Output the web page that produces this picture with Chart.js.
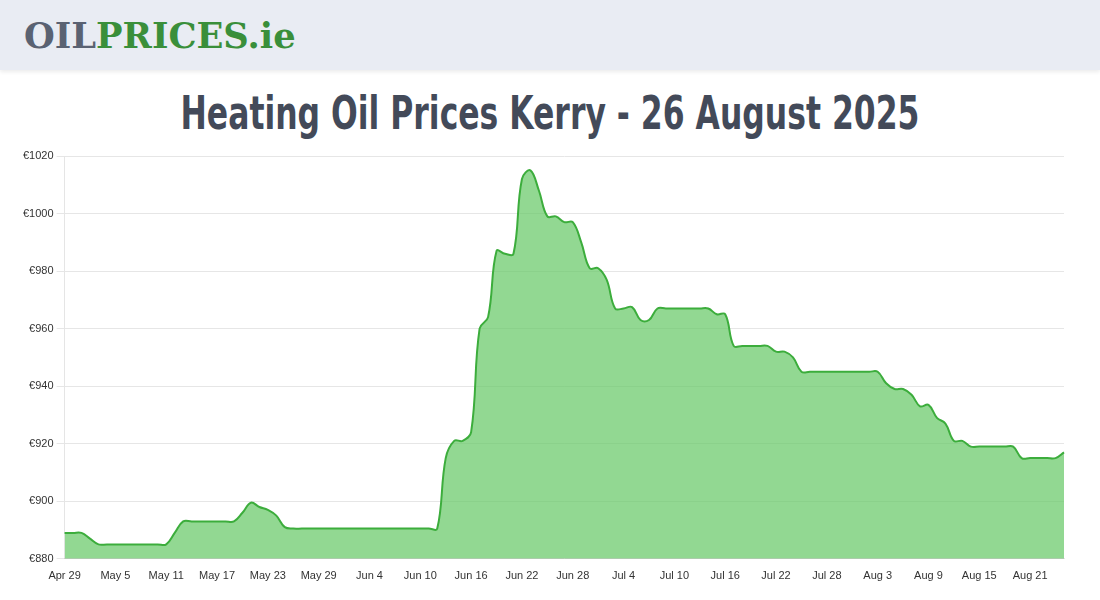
<!DOCTYPE html>
<html><head><meta charset="utf-8">
<script src="https://cdn.jsdelivr.net/npm/chart.js@4"></script>
<style>
body{margin:0;width:1100px;height:600px;background:#fff;font-family:Arial,"Liberation Sans",sans-serif;overflow:hidden}
.top{height:70px;background:#e9ecf3;box-shadow:0 2px 4px rgba(0,0,0,0.08);position:relative}
.logo{position:absolute;left:24px;top:14px;font-family:"DejaVu Serif",serif;font-weight:900;font-size:36px;letter-spacing:0px;transform:scaleX(0.98);transform-origin:left}
.logo .a{color:#5a6272}.logo .b{color:#3a8f3a}
h1{margin:0;position:absolute;top:86px;width:100%;text-align:center;font-family:"DejaVu Sans Condensed","DejaVu Sans",sans-serif;font-weight:bold;font-size:46px;color:#434a59;transform:scaleX(0.76);transform-origin:center}
.wrap{position:absolute;left:0;top:140px;width:1100px;height:460px}
</style></head><body>
<div class="top"><div class="logo"><span class="a">OIL</span><span class="b">PRICES.ie</span></div></div>
<h1>Heating Oil Prices Kerry - 26 August 2025</h1>
<div class="wrap"><canvas id="c"></canvas></div>
<script>
const prices = [
  889, 889, 889, 887, 885, 885, 885, 885, 885, 885, 885, 885, 885, 889, 893, 893, 893, 893, 893, 893,
  893, 896, 899.5, 898, 897, 895, 891, 890.5, 890.5, 890.5, 890.5, 890.5, 890.5, 890.5, 890.5, 890.5, 890.5, 890.5, 890.5, 890.5,
  890.5, 890.5, 890.5, 890.5, 890.5, 915, 921, 921, 924, 960, 964, 987, 986, 986, 1012, 1015, 1008, 999, 999, 997,
  997, 990, 981, 981, 977, 967, 967, 967.5, 963, 963, 967, 967, 967, 967, 967, 967, 967, 965, 965, 954,
  954, 954, 954, 954, 952, 952, 950, 945, 945, 945, 945, 945, 945, 945, 945, 945, 945, 941, 939, 939,
  937, 933, 933.5, 929, 927, 921, 921, 919, 919, 919, 919, 919, 919, 915, 915, 915, 915, 915, 917
];
const yTicks = [880, 900, 920, 940, 960, 980, 1000, 1020];
const months = ['Jan','Feb','Mar','Apr','May','Jun','Jul','Aug','Sep','Oct','Nov','Dec'];
const dates = prices.map((_, i) => {
  const d = new Date(2025, 3, 29 + i);
  return months[d.getMonth()] + ' ' + d.getDate();
});

new Chart(document.getElementById('c'), {
  type: 'line',
  data: {
    labels: dates,
    datasets: [{
      data: prices,
      borderColor: '#3cad3c',
      backgroundColor: 'rgba(100,200,100,0.7)',
      borderWidth: 2,
      fill: true,
      tension: 0.4,
      pointRadius: 0,
    }],
  },
  options: {
    responsive: true,
    maintainAspectRatio: false,
    animation: false,
    layout: { padding: { left: 20, right: 36, top: 16, bottom: 14 } },
    plugins: { legend: { display: false }, tooltip: { enabled: false } },
    scales: {
      x: {
        grid: { display: false },
        ticks: {
          autoSkip: false, maxRotation: 0, font: { size: 11 }, color: '#333',
          callback: (v, i) => i % 6 === 0 ? dates[i] : null,
        },
      },
      y: {
        min: 880, max: 1020,
        afterBuildTicks: ax => { ax.ticks = yTicks.map(v => ({ value: v })); },
        grid: { color: '#e6e6e6' },
        ticks: { font: { size: 11 }, color: '#333', callback: v => '€' + v },
      },
    },
  },
});
</script>
</body></html>
